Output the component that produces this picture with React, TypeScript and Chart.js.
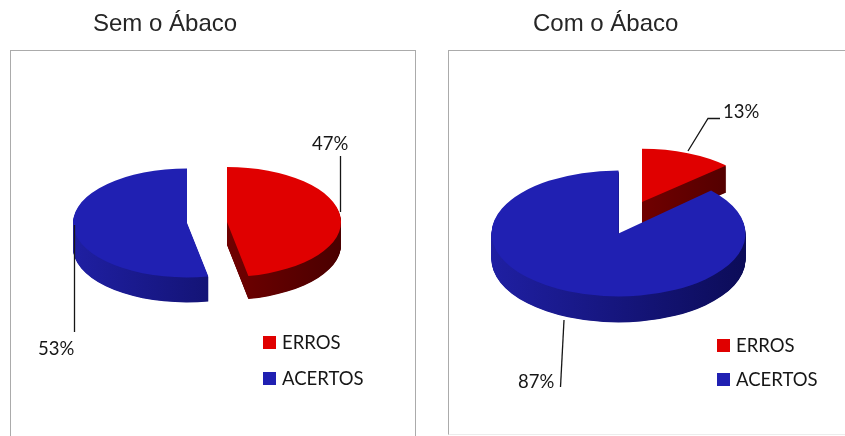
import React, { useEffect, useRef } from "react";
import { Chart, ArcElement, PieController } from "chart.js";

Chart.register(ArcElement, PieController);

const categories = ["ERROS", "ACERTOS"];
const semAbacoValues = [47, 53];
const comAbacoValues = [13, 87];
const sliceColors = ["#e00000", "#2020b2"];
const sideGradients = [
  ["#960000", "#4a0000"],
  ["#1f1fa2", "#0c0c58"],
];

const WIDTH = 845;
const HEIGHT = 436;
const TITLE_FONT = '24px "Liberation Sans", Arial, sans-serif';
const LABEL_FONT = '18.5px Lato, sans-serif';
const INK = "#161616";

// Fake-3D pie: the arcs stay the library's, but are drawn through a squashed
// transform, with darker copies stacked underneath to form the rim.
const pie3d = {
  id: "pie3d",
  beforeDatasetDraw(chart: any, args: any, opts: any) {
    const { ctx } = chart;
    const arcs = args.meta.data;
    opts.drawOrder.forEach((i: number) => {
      const arc = arcs[i];
      const s = opts.slices[i];
      const cx = arc.x;
      const cy = arc.y;
      const r = arc.outerRadius;
      const place = (drop: number) => {
        ctx.translate(cx + s.dx, cy + s.dy + drop);
        ctx.scale(s.scale, s.scale * s.squash);
        ctx.translate(-cx, -cy);
      };
      ctx.save();
      const grad = ctx.createLinearGradient(cx - r, 0, cx + r, 0);
      grad.addColorStop(0, sideGradients[i][0]);
      grad.addColorStop(1, sideGradients[i][1]);
      const rim = new (ArcElement as any)({
        x: cx,
        y: cy,
        startAngle: arc.startAngle,
        endAngle: arc.endAngle,
        circumference: arc.circumference,
        innerRadius: 0,
        outerRadius: r,
        options: { ...arc.options, backgroundColor: grad, borderWidth: 0 },
      });
      for (let d = s.depth; d >= 1; d -= 0.5) {
        ctx.save();
        place(d);
        rim.draw(ctx);
        ctx.restore();
      }
      ctx.save();
      place(0);
      arc.draw(ctx);
      ctx.restore();
      ctx.restore();
    });
    return false;
  },
};

// Title, leader lines, value labels and legend, all on the chart's own canvas.
const annotations = {
  id: "annotations",
  afterDraw(chart: any, _args: any, opts: any) {
    const { ctx } = chart;
    const values = chart.data.datasets[0].data;
    ctx.save();
    ctx.textBaseline = "alphabetic";
    ctx.textAlign = "left";

    ctx.font = TITLE_FONT;
    ctx.fillStyle = "#262626";
    ctx.fillText(opts.title, opts.titleX, opts.titleY);

    ctx.strokeStyle = INK;
    ctx.lineWidth = 1.3;
    ctx.font = LABEL_FONT;
    opts.leaders.forEach((l: any, i: number) => {
      ctx.beginPath();
      l.path.forEach(([x, y]: number[], k: number) =>
        k ? ctx.lineTo(x, y) : ctx.moveTo(x, y)
      );
      ctx.stroke();
      ctx.fillStyle = INK;
      ctx.fillText(`${values[i]}%`, l.labelX, l.labelY);
    });

    chart.data.labels.forEach((name: string, i: number) => {
      const y = opts.legendRows[i];
      ctx.fillStyle = sliceColors[i];
      ctx.fillRect(opts.legendX, y, 13, 13);
      ctx.fillStyle = INK;
      ctx.fillText(name, opts.legendX + 19, y + 13);
    });
    ctx.restore();
  },
};

function makeChart(canvas: HTMLCanvasElement, values: number[], cfg: any) {
  return new Chart(canvas, {
    type: "pie",
    data: {
      labels: categories,
      datasets: [
        { data: values, backgroundColor: sliceColors, borderWidth: 0 },
      ],
    },
    options: {
      animation: false,
      responsive: false,
      radius: cfg.radius,
      layout: { padding: cfg.padding },
      plugins: {
        legend: { display: false },
        tooltip: { enabled: false },
        pie3d: { slices: cfg.slices, drawOrder: cfg.drawOrder },
        annotations: cfg.annotations,
      },
    } as any,
    plugins: [pie3d, annotations],
  });
}

const semAbacoLayout = {
  radius: 114,
  padding: { left: 0, right: 16, top: 9, bottom: 0 },
  drawOrder: [1, 0],
  slices: [
    { dx: 20, dy: -0.5, scale: 1, squash: 0.482, depth: 23 },
    { dx: -20, dy: 0.5, scale: 1, squash: 0.478, depth: 25 },
  ],
  annotations: {
    title: "Sem o Ábaco",
    titleX: 93,
    titleY: 31,
    legendX: 263,
    legendRows: [336, 372],
    leaders: [
      { path: [[340.5, 156], [340.5, 212]], labelX: 312, labelY: 150 },
      { path: [[74.5, 225], [74.5, 332]], labelX: 38, labelY: 355 },
    ],
  },
};

const comAbacoLayout = {
  radius: 127,
  padding: { left: 0, right: 38, top: 31, bottom: 0 },
  drawOrder: [0, 1],
  slices: [
    { dx: 23.5, dy: -31.5, scale: 0.91, squash: 0.46, depth: 27 },
    { dx: 0, dy: 0, scale: 1, squash: 0.496, depth: 26 },
  ],
  annotations: {
    title: "Com o Ábaco",
    titleX: 103,
    titleY: 31,
    legendX: 287,
    legendRows: [339, 373],
    leaders: [
      { path: [[258, 151], [278, 118.5], [290, 118.5]], labelX: 293, labelY: 118 },
      { path: [[134, 320], [130.5, 387]], labelX: 88, labelY: 388 },
    ],
  },
};

export default function App() {
  const leftRef = useRef<HTMLCanvasElement>(null);
  const rightRef = useRef<HTMLCanvasElement>(null);

  useEffect(() => {
    const left = makeChart(leftRef.current!, semAbacoValues, semAbacoLayout);
    const right = makeChart(rightRef.current!, comAbacoValues, comAbacoLayout);
    return () => {
      left.destroy();
      right.destroy();
    };
  }, []);

  const panel: React.CSSProperties = {
    position: "absolute",
    boxSizing: "border-box",
    borderStyle: "solid",
    borderWidth: 1.5,
    borderColor: "#ababab",
    background: "#fff",
  };
  const layer: React.CSSProperties = { position: "absolute", top: 0 };

  return (
    <div
      style={{
        position: "fixed",
        left: 0,
        top: 0,
        width: WIDTH,
        height: HEIGHT,
        overflow: "hidden",
        background: "#fff",
      }}
    >
      <div style={{ ...panel, left: 10, top: 50, width: 406, height: 420 }} />
      <div
        style={{
          ...panel,
          left: 448,
          top: 50,
          width: 420,
          height: 385,
          borderBottomColor: "#ececec",
        }}
      />
      <canvas ref={leftRef} width={430} height={HEIGHT} style={{ ...layer, left: 0 }} />
      <canvas ref={rightRef} width={415} height={HEIGHT} style={{ ...layer, left: 430 }} />
    </div>
  );
}
